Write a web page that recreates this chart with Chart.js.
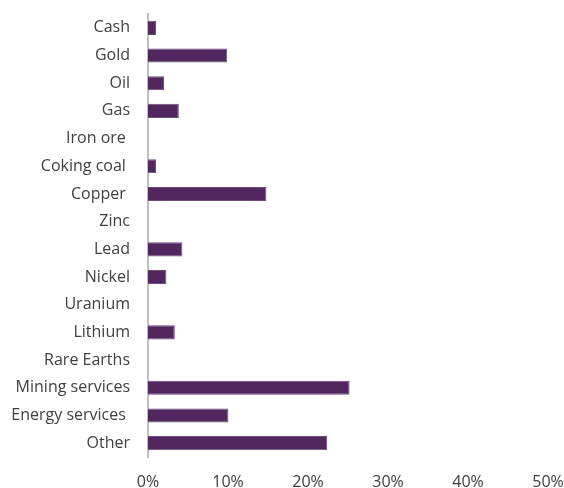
<!DOCTYPE html>
<html>
<head>
<meta charset="utf-8">
<script src="https://cdn.jsdelivr.net/npm/chart.js@4"></script>
<style>
  html, body { margin: 0; padding: 0; background: #fff; }
</style>
</head>
<body>
<canvas id="canvasSectores" width="564" height="488"></canvas>
<script>
// categorias (los espacios finales vienen del original)
var sectores = ['Cash', 'Gold', 'Oil', 'Gas', 'Iron ore ', 'Coking coal ', 'Copper ', 'Zinc',
  'Lead', 'Nickel', 'Uranium', 'Lithium', 'Rare Earths', 'Mining services', 'Energy services ', 'Other'];
// peso en %
var pesos = [1.0, 9.9, 2.0, 3.85, 0, 1.0, 14.8, 0, 4.3, 2.3, 0, 3.35, 0, 25.2, 10.05, 22.4];
var ejeX = [0, 10, 20, 30, 40, 50];

var morado = '#52275f';
var gris = '#404040';

var ctx = document.getElementById('canvasSectores').getContext('2d');

window.myBar = new Chart(ctx, {
  type: 'bar',
  data: {
    labels: sectores,
    datasets: [{
      label: 'Peso',
      data: pesos,
      backgroundColor: morado,
      borderColor: '#6f4c7a',
      borderWidth: 1,
      borderSkipped: 'left',
      barPercentage: 0.51,
      categoryPercentage: 1.0,
    }],
  },
  options: {
    indexAxis: 'y',
    responsive: false,
    animation: false,
    maintainAspectRatio: false,
    layout: { padding: { top: 14, right: 16, left: 0, bottom: 0 } },
    plugins: {
      legend: { display: false },
      tooltip: { enabled: false },
    },
    scales: {
      x: {
        min: ejeX[0],
        max: ejeX[ejeX.length - 1],
        afterBuildTicks: function (scale) {
          scale.ticks = ejeX.map(function (v) { return { value: v }; });
        },
        afterFit: function (scale) {
          scale.height = 31;
          scale.paddingLeft = 0;
          scale.paddingRight = 0;
        },
        grid: { display: false, drawTicks: false },
        border: { display: false },
        ticks: {
          padding: 16,
          color: gris,
          maxRotation: 0,
          font: { family: 'Open Sans', size: 16 },
          callback: function (v) { return v + '%'; },
        },
      },
      y: {
        afterFit: function (scale) {
          scale.width = 148;
          scale.paddingTop = 0;
          scale.paddingBottom = 0;
        },
        grid: { display: false, drawTicks: false },
        border: { display: true, color: '#bfbfbf', width: 2 },
        ticks: {
          padding: 18,
          color: gris,
          autoSkip: false,
          font: { family: 'Open Sans', size: 16 },
        },
      },
    },
  },
});
</script>
</body>
</html>
